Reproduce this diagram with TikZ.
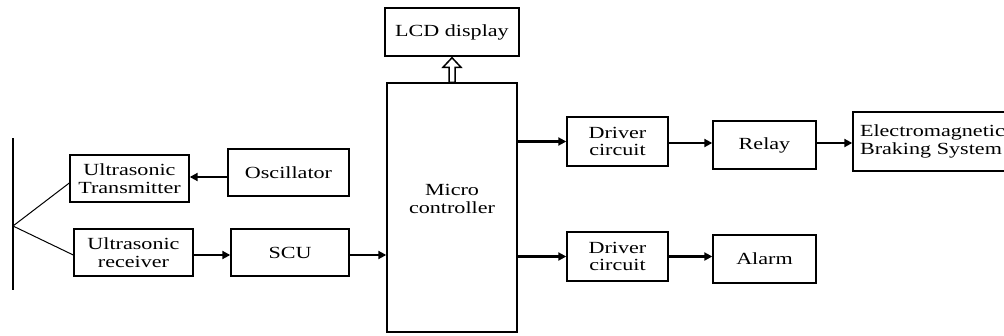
\documentclass[tikz,border=0pt]{standalone}
\usepackage{fontspec}
\setmainfont[FakeStretch=1.3]{Liberation Serif}
\usetikzlibrary{arrows.meta,calc}

\begin{document}
\begin{tikzpicture}[x=1pt, y=-1pt,
    font=\fontsize{17}{17.5}\selectfont,
    blk/.style={draw, line width=1.4pt, align=center, inner sep=0pt},
    sig/.style={line width=2.8pt, -{Triangle[length=8pt,width=8pt]}},
    beam/.style={line width=1pt}]
  % Canvas (reference is 1004 x 335 px)
  \clip (0,0) rectangle (1004,335);

  % Sensing side
  \node[blk, minimum width=119pt, minimum height=47pt] (trans) at (129.5,178.5) {Ultrasonic\\Transmitter};
  \node[blk, minimum width=121pt, minimum height=47pt] (osc) at (288.5,172.5) {Oscillator};
  \node[blk, minimum width=119pt, minimum height=47pt] (recv) at (133.5,252.5) {Ultrasonic\\receiver};
  \node[blk, minimum width=118pt, minimum height=47pt] (scu) at (290,252.5) {SCU};

  % Controller and display
  \node[blk, minimum width=134pt, minimum height=48pt] (lcd) at (452,32) {LCD display};
  \node[blk, minimum width=130pt, minimum height=249pt] (micro) at (452,207.5) {Micro\\controller\\~};

  % Output side
  \node[blk, minimum width=101pt, minimum height=49pt] (drvA) at (617.5,141.5) {Driver\\circuit};
  \node[blk, minimum width=101pt, minimum height=49pt] (drvB) at (617.5,256.5) {Driver\\circuit};
  \node[blk, minimum width=103pt, minimum height=48pt] (relay) at (764.5,145) {Relay};
  \node[blk, minimum width=103pt, minimum height=48pt] (alarm) at (764.5,259) {Alarm};
  \node[blk, text width=146pt, inner xsep=7pt, minimum height=59pt, align=left] (brake) at (933,141.5) {Electromagnetic\\Braking System};

  % Obstacle wall and beams
  \coordinate (wtop) at (13,138);
  \coordinate (wbot) at (13,290);
  \coordinate (hub) at (13,226);
  \draw[line width=1.6pt] (wtop) -- (wbot);
  \draw[beam] (hub) -- ($(trans.west)+(0,4.5)$);
  \draw[beam] (hub) -- ($(recv.west)+(0,2.5)$);

  % Signal flow
  \draw[sig] ($(osc.west)+(0,4.5)$) -- ($(trans.east)+(0,-1.5)$);
  \draw[sig] ($(recv.east)+(0,2.5)$) -- ($(scu.west)+(0,2.5)$);
  \draw[sig] ($(scu.east)+(0,2.5)$) -- ($(micro.west |- scu.east)+(0,2.5)$);
  \draw[sig] (micro.east |- drvA.west) -- (drvA.west);
  \draw[sig] (micro.east |- drvB.west) -- (drvB.west);
  \draw[sig] ($(drvA.east)+(0,1.5)$) -- ($(relay.west)+(0,-2)$);
  \draw[sig] ($(relay.east)+(0,-2)$) -- ($(brake.west |- relay.east)+(0,-2)$);
  \draw[sig] (drvB.east) -- ($(alarm.west)+(0,-2.5)$);

  % Hollow arrow to the display
  \draw[line width=1.5pt, fill=white] ($(micro.north)+(-3,0)$) -- ++(0,-15) -- ++(-6,0)
    -- ($(lcd.south)+(0,1)$) -- ($(micro.north)+(9,-15)$) -- ++(-6,0)
    -- ($(micro.north)+(3,0)$) -- cycle;
\end{tikzpicture}
\end{document}
